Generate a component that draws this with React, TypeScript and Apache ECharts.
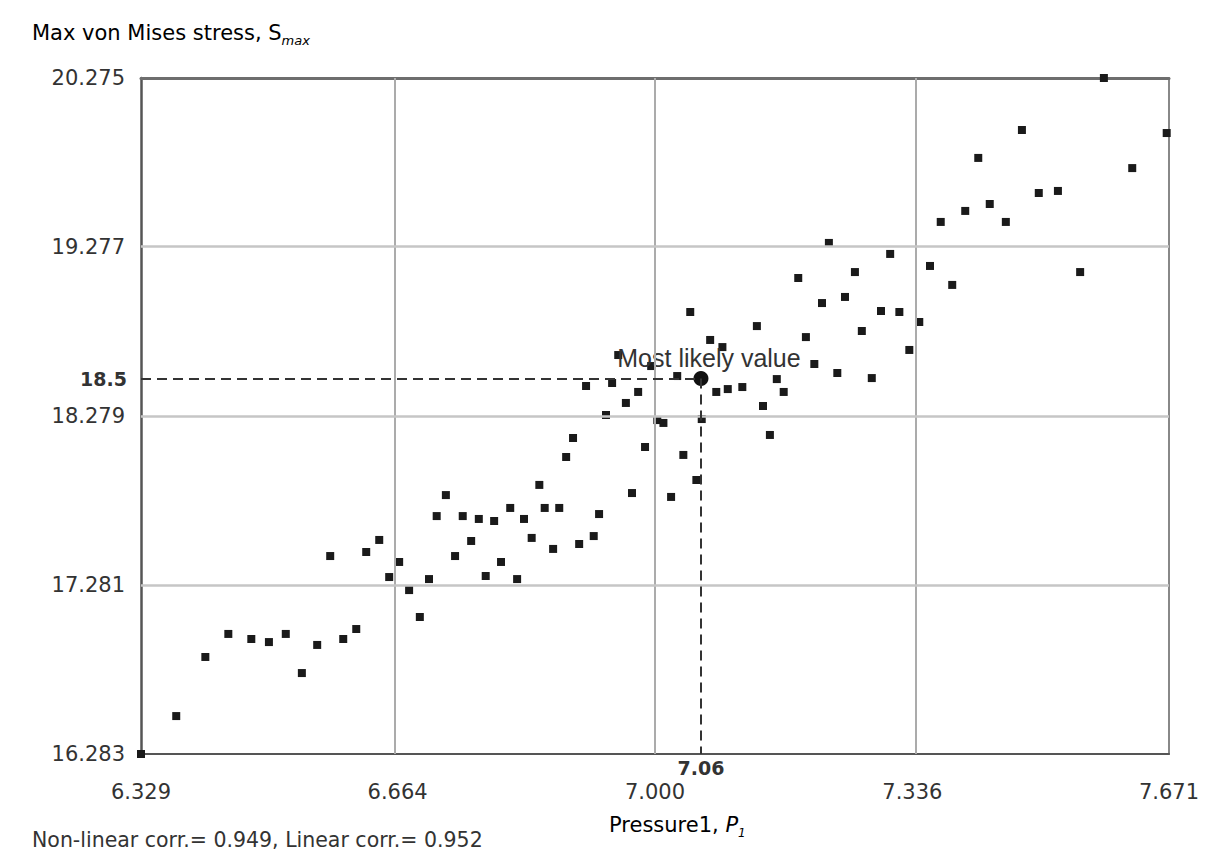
import React, { useEffect, useRef } from "react";
import * as echarts from "echarts";

// Sampled points: Pressure1 (P1) vs Max von Mises stress (Smax)
const pressure = [
  6.329, 6.375, 6.413, 6.443, 6.473, 6.496, 6.518, 6.539, 6.559, 6.593,
  6.610, 6.576, 6.623, 6.640, 6.653, 6.666, 6.679, 6.693, 6.705, 6.715,
  6.727, 6.739, 6.749, 6.760, 6.770, 6.779, 6.790, 6.799, 6.811, 6.820,
  6.829, 6.839, 6.849, 6.856, 6.867, 6.875, 6.884, 6.893, 6.901, 6.920,
  6.927, 6.936, 6.910, 6.944, 6.952, 6.962, 6.970, 6.978, 6.987, 6.995,
  7.003, 7.011, 7.021, 7.029, 7.037, 7.046, 7.054, 7.061, 7.072, 7.080,
  7.088, 7.095, 7.114, 7.133, 7.141, 7.150, 7.159, 7.168, 7.187, 7.197,
  7.208, 7.218, 7.227, 7.238, 7.248, 7.261, 7.270, 7.283, 7.295, 7.307,
  7.319, 7.332, 7.345, 7.359, 7.373, 7.388, 7.405, 7.422, 7.437, 7.458,
  7.479, 7.501, 7.526, 7.555, 7.586, 7.623, 7.668,
];
const stress = [
  16.283, 16.507, 16.856, 16.992, 16.962, 16.944, 16.992, 16.761, 16.927, 16.962,
  17.021, 17.452, 17.476, 17.547, 17.328, 17.417, 17.251, 17.092, 17.316, 17.688,
  17.812, 17.452, 17.688, 17.541, 17.671, 17.334, 17.659, 17.417, 17.736, 17.316,
  17.671, 17.559, 17.872, 17.736, 17.494, 17.736, 18.037, 18.149, 17.523, 17.570,
  17.700, 18.285, 18.456, 18.474, 18.639, 18.356, 17.824, 18.421, 18.096, 18.574,
  18.255, 18.238, 17.801, 18.515, 18.049, 18.893, 17.901, 18.261, 18.728, 18.421,
  18.686, 18.438, 18.450, 18.810, 18.338, 18.167, 18.497, 18.421, 19.094, 18.745,
  18.586, 18.946, 19.301, 18.533, 18.982, 19.129, 18.781, 18.503, 18.899, 19.236,
  18.893, 18.669, 18.834, 19.165, 19.425, 19.053, 19.490, 19.803, 19.531, 19.425,
  19.968, 19.596, 19.608, 19.129, 20.275, 19.743, 19.950,
];

const xTicks = [6.329, 6.664, 7.0, 7.336, 7.671];
const yTicks = [16.283, 17.281, 18.279, 19.277, 20.275];

const likelyPressure = 7.06;
const likelyStress = 18.5;
const likelyLabel = "Most likely value";

const nonLinearCorr = 0.949;
const linearCorr = 0.952;

const FONT = "DejaVu Sans";
const TXT = "#333333";

export default function App() {
  const ref = useRef<HTMLDivElement | null>(null);

  useEffect(() => {
    if (!ref.current) return;
    const chart = echarts.init(ref.current, undefined, { renderer: "svg" });

    const points = pressure.map((p, i) => [p, stress[i]]);
    const xMin = xTicks[0];
    const xMax = xTicks[xTicks.length - 1];
    const yMin = yTicks[0];
    const yMax = yTicks[yTicks.length - 1];

    const gridLines: any[] = [];
    xTicks.slice(1, -1).forEach((v) =>
      gridLines.push({ xAxis: v, lineStyle: { color: "#ababab", width: 2, type: "solid" } })
    );
    yTicks.slice(1, -1).forEach((v) =>
      gridLines.push({ yAxis: v, lineStyle: { color: "#c6c6c6", width: 2.5, type: "solid" } })
    );

    const option: any = {
      animation: false,
      backgroundColor: "#ffffff",
      grid: { left: 141, right: 55, top: 78, bottom: 102, show: false },
      xAxis: [
        {
          type: "value",
          min: xMin,
          max: xMax,
          position: "bottom",
          axisLine: { show: true, onZero: false, lineStyle: { color: "#555555", width: 2 } },
          axisTick: { show: false },
          splitLine: { show: false },
          axisLabel: {
            customValues: xTicks,
            showMinLabel: true,
            showMaxLabel: true,
            margin: 27,
            color: TXT,
            fontFamily: FONT,
            fontSize: 21,
            formatter: (v: number) => v.toFixed(3),
          },
        },
        {
          type: "value",
          min: xMin,
          max: xMax,
          position: "top",
          axisLine: { show: true, onZero: false, lineStyle: { color: "#6e6e6e", width: 3 } },
          axisTick: { show: false },
          splitLine: { show: false },
          axisLabel: { show: false },
        },
      ],
      yAxis: [
        {
          type: "value",
          min: yMin,
          max: yMax,
          position: "left",
          axisLine: { show: true, onZero: false, lineStyle: { color: "#555555", width: 2.5 } },
          axisTick: { show: false },
          splitLine: { show: false },
          axisLabel: {
            customValues: yTicks,
            showMinLabel: true,
            showMaxLabel: true,
            margin: 16,
            color: TXT,
            fontFamily: FONT,
            fontSize: 21,
            formatter: (v: number) => v.toFixed(3),
          },
        },
        {
          type: "value",
          min: yMin,
          max: yMax,
          position: "right",
          axisLine: { show: true, onZero: false, lineStyle: { color: "#888888", width: 2 } },
          axisTick: { show: false },
          splitLine: { show: false },
          axisLabel: { show: false },
        },
      ],
      series: [
        {
          name: "grid",
          type: "line",
          data: [],
          z: 1,
          silent: true,
          markLine: {
            silent: true,
            symbol: ["none", "none"],
            label: { show: false },
            data: gridLines,
          },
        },
        {
          name: "samples",
          type: "scatter",
          data: points,
          symbol: "rect",
          symbolSize: 8,
          clip: false,
          z: 3,
          itemStyle: { color: "#1a1a1a", opacity: 1 },
        },
        {
          name: "mostLikely",
          type: "scatter",
          data: [[likelyPressure, likelyStress]],
          symbol: "circle",
          symbolSize: 15,
          clip: false,
          z: 4,
          itemStyle: { color: "#111111", opacity: 1 },
          label: {
            show: true,
            position: "top",
            offset: [8, 4],
            formatter: likelyLabel,
            color: TXT,
            fontFamily: "Liberation Sans",
            fontSize: 25,
          },
          markLine: {
            silent: true,
            symbol: ["none", "none"],
            lineStyle: { color: "#333333", width: 2, type: [10, 6] },
            data: [
              [
                {
                  coord: [xMin, likelyStress],
                  label: {
                    show: true,
                    position: "start",
                    distance: 14,
                    formatter: String(likelyStress),
                    color: TXT,
                    fontFamily: FONT,
                    fontWeight: "bold",
                    fontSize: 19,
                  },
                },
                { coord: [likelyPressure, likelyStress] },
              ],
              [
                {
                  coord: [likelyPressure, likelyStress],
                  label: {
                    show: true,
                    position: "end",
                    distance: 4,
                    formatter: String(likelyPressure),
                    color: TXT,
                    fontFamily: FONT,
                    fontWeight: "bold",
                    fontSize: 19,
                  },
                },
                { coord: [likelyPressure, yMin] },
              ],
            ],
          },
        },
      ],
      graphic: [
        {
          type: "text",
          left: 32,
          top: 22,
          style: {
            text: "{a|Max von Mises stress, S}{b|max}",
            rich: {
              a: { fontFamily: FONT, fontSize: 21, color: TXT, lineHeight: 24, padding: [0, 0, 5, 0] },
              b: {
                fontFamily: FONT,
                fontSize: 13,
                fontStyle: "italic",
                color: TXT,
                lineHeight: 13,
                verticalAlign: "bottom",
              },
            },
          },
        },
        {
          type: "text",
          left: 609,
          top: 814,
          style: {
            text: "{a|Pressure1, }{i|P}{b|1}",
            rich: {
              a: { fontFamily: FONT, fontSize: 21, color: TXT, lineHeight: 24, padding: [0, 0, 5, 0] },
              i: { fontFamily: FONT, fontSize: 21, fontStyle: "italic", color: TXT, lineHeight: 24, padding: [0, 0, 5, 0] },
              b: {
                fontFamily: FONT,
                fontSize: 12,
                fontStyle: "italic",
                color: TXT,
                lineHeight: 12,
                verticalAlign: "bottom",
              },
            },
          },
        },
        {
          type: "text",
          left: 32,
          top: 829,
          style: {
            text: `Non-linear corr.= ${nonLinearCorr}, Linear corr.= ${linearCorr}`,
            fontFamily: FONT,
            fontSize: 20.5,
            fill: TXT,
          },
        },
      ],
    };

    chart.setOption(option);
    return () => chart.dispose();
  }, []);

  return (
    <div
      ref={ref}
      style={{ position: "fixed", left: 0, top: 0, width: 1224, height: 856, background: "#fff" }}
    />
  );
}
